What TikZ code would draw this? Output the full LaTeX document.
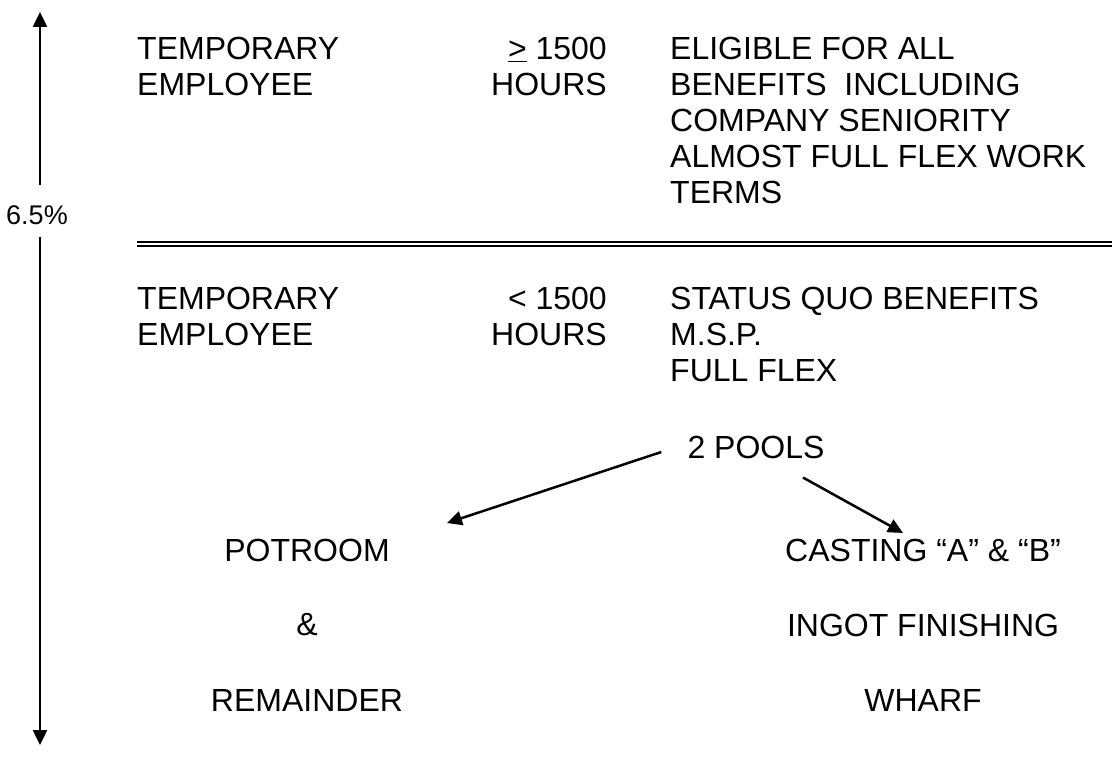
\documentclass[tikz,border=0pt]{standalone}
\usepackage{fontspec}
\setmainfont{Liberation Sans}
\usetikzlibrary{arrows.meta, positioning}

\begin{document}
\begin{tikzpicture}[
    x=1pt, y=-1pt,
    txt/.style={inner sep=0pt, align=left, anchor=north west, font=\fontsize{32}{36}\selectfont},
    ctr/.style={inner sep=0pt, align=center, font=\fontsize{32}{36}\selectfont},
    arr/.style={line width=2.5pt, -{Triangle[length=15pt,width=14pt]}}
]
\useasboundingbox (0,0) rectangle (1112,759);

% upper band
\node[txt] (tempA) at (137,37) {TEMPORARY\\EMPLOYEE};
\node[txt, align=right, anchor=north east] (hrsA) at (607,37) {\underline{>}\ 1500\\HOURS};
\node[txt] (benA) at (670,37)
    {ELIGIBLE FOR ALL\\BENEFITS\ \ INCLUDING\\COMPANY SENIORITY\\ALMOST FULL FLEX WORK\\TERMS};

\draw[line width=2pt, double, double distance=2.5pt] (137,244) -- (1112,244);

% lower band
\node[txt] (tempB) at (137,287) {TEMPORARY\\EMPLOYEE};
\node[txt, align=right, anchor=north east] (hrsB) at (607,287) {< 1500\\HOURS};
\node[txt] (benB) at (670,287) {STATUS QUO BENEFITS\\M.S.P.\\FULL FLEX};

% pools
\node[ctr] (pools) at (756,447) {2 POOLS};
\node[ctr] (potroom) at (307,550) {POTROOM};
\node[ctr] (amp) at (307,625) {\&};
\node[ctr] (remain) at (307,700) {REMAINDER};
\node[ctr] (casting) at (923,550) {CASTING “A” \& “B”};
\node[ctr] (ingot) at (923,625) {INGOT FINISHING};
\node[ctr] (wharf) at (923,700) {WHARF};

\coordinate (toPot) at (447,523);
\coordinate (toCast) at (903,533);
\draw[arr] ([xshift=-26pt,yshift=-5pt]pools.west) -- (toPot);
\draw[arr] ([xshift=47pt,yshift=-19pt]pools.south) -- (toCast);

% side arrow
\node[inner sep=0pt, font=\fontsize{27}{30}\selectfont] (pct) at (37,215) {6.5\%};
\coordinate (topTip) at (40,12);
\coordinate (botTip) at (40,745);
\draw[arr, shorten <=20pt] (topTip |- pct.north) -- (topTip);
\draw[arr, shorten <=12pt] (botTip |- pct.south) -- (botTip);
\end{tikzpicture}
\end{document}
